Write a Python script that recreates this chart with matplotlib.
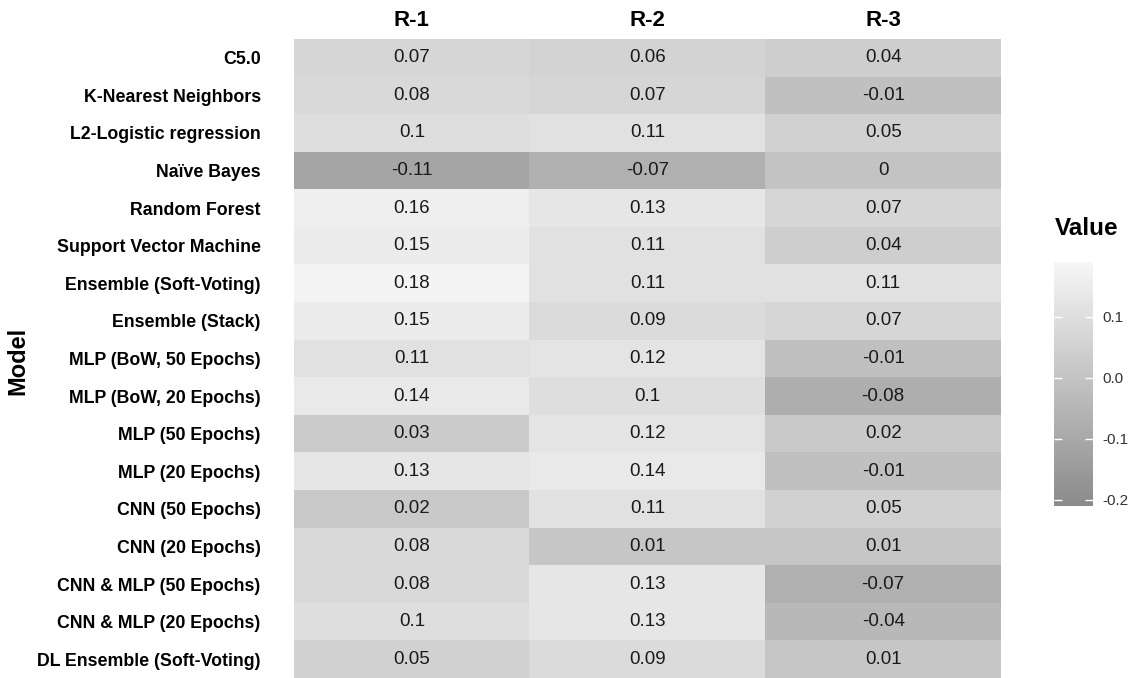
import matplotlib
matplotlib.use("Agg")
import matplotlib.pyplot as plt
import numpy as np
from matplotlib.colors import LinearSegmentedColormap, Normalize
from matplotlib.transforms import blended_transform_factory

plt.rcParams['font.family'] = ['Liberation Sans', 'DejaVu Sans']

models = ["C5.0", "K-Nearest Neighbors", "L2-Logistic regression", "Naïve Bayes",
          "Random Forest", "Support Vector Machine", "Ensemble (Soft-Voting)",
          "Ensemble (Stack)", "MLP (BoW, 50 Epochs)", "MLP (BoW, 20 Epochs)",
          "MLP (50 Epochs)", "MLP (20 Epochs)", "CNN (50 Epochs)", "CNN (20 Epochs)",
          "CNN & MLP (50 Epochs)", "CNN & MLP (20 Epochs)", "DL Ensemble (Soft-Voting)"]
columns = ["R-1", "R-2", "R-3"]
r1 = [0.07, 0.08, 0.1, -0.11, 0.16, 0.15, 0.18, 0.15, 0.11, 0.14, 0.03, 0.13, 0.02, 0.08, 0.08, 0.1, 0.05]
r2 = [0.06, 0.07, 0.11, -0.07, 0.13, 0.11, 0.11, 0.09, 0.12, 0.1, 0.12, 0.14, 0.11, 0.01, 0.13, 0.13, 0.09]
r3 = [0.04, -0.01, 0.05, 0, 0.07, 0.04, 0.11, 0.07, -0.01, -0.08, 0.02, -0.01, 0.05, 0.01, -0.07, -0.04, 0.01]
cbar_ticks = [-0.2, -0.1, 0.0, 0.1]
cbar_ticklabels = ["-0.2", "-0.1", "0.0", "0.1"]

vmin, vmax = -0.21, 0.19
cmap = LinearSegmentedColormap.from_list("g", ["#8b8b8b", "#f7f7f7"])
norm = Normalize(vmin=vmin, vmax=vmax)

data = np.array([r1, r2, r3]).T

fig = plt.figure(figsize=(11.34, 6.78), dpi=100)
ax = fig.add_axes([294/1134, 0.0, 707/1134, 1 - 39/678])
ax.imshow(data, cmap=cmap, norm=norm, aspect='auto', interpolation='nearest')
for i in range(data.shape[0]):
    for j in range(data.shape[1]):
        v = data[i, j]
        s = f"{v:g}"
        if s == "-0":
            s = "0"
        ax.text(j, i, s, ha='center', va='center', fontsize=13.5, color='#1a1a1a')

ax.set_xticks(range(len(columns)))
ax.set_xticklabels(columns, fontsize=16, fontweight='bold')
ax.xaxis.tick_top()
ax.set_yticks(range(len(models)))
ax.set_yticklabels(models, fontsize=12.8, fontweight='bold')
ax.tick_params(axis='both', length=0)
ax.tick_params(axis='x', pad=6)
ax.tick_params(axis='y', pad=24)
for sp in ax.spines.values():
    sp.set_visible(False)

fig.text(18/1134, 1 - 361/678, "Model", rotation=90, ha='center', va='center',
         fontsize=17, fontweight='bold')

# colorbar
cax = fig.add_axes([1054/1134, 1 - 506/678, 39/1134, 244/678])
grad = np.linspace(vmin, vmax, 256).reshape(-1, 1)
cax.imshow(grad, cmap=cmap, norm=norm, aspect='auto', origin='lower',
           extent=[0, 1, vmin, vmax])
cax.set_xlim(0, 1)
cax.set_ylim(vmin, vmax)
cax.set_xticks([])
cax.yaxis.tick_right()
cax.set_yticks(cbar_ticks)
cax.set_yticklabels(cbar_ticklabels, fontsize=11, color='#333333')
cax.tick_params(axis='y', length=0, pad=7)
for sp in cax.spines.values():
    sp.set_visible(False)
cax.hlines(cbar_ticks, 0, 0.2, colors='white', linewidth=1)
cax.hlines(cbar_ticks, 0.8, 1, colors='white', linewidth=1)

fig.text(1055/1134, 1 - 228/678, "Value", ha='left', va='center', fontsize=17.5,
         fontweight='bold')

fig.savefig("out.png", dpi=100)
